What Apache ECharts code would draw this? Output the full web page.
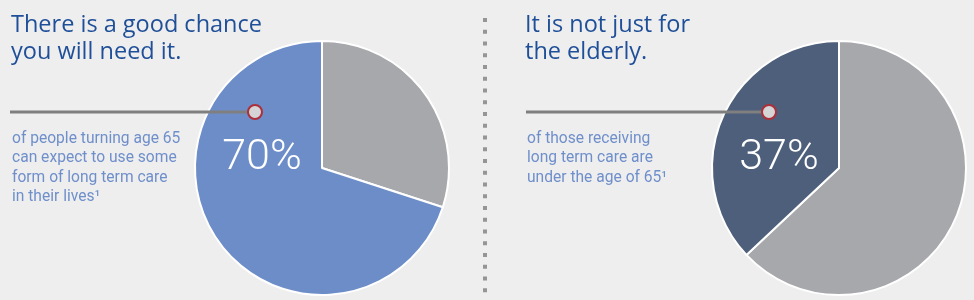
<!DOCTYPE html>
<html>
<head>
<meta charset="utf-8">
<script src="https://cdn.jsdelivr.net/npm/echarts@6/dist/echarts.min.js"></script>
<style>
html,body{margin:0;padding:0;background:#eeeeee;}
#chart{width:974px;height:300px;}
</style>
</head>
<body>
<div id="chart"></div>
<script>
// Data
const leftCategories = ['Will not need care', 'Will need long term care'];
const leftValues = [30, 70];
const rightCategories = ['Age 65 and over', 'Under age 65'];
const rightValues = [63, 37];
const leftTitle = ['There is a good chance', 'you will need it.'];
const leftNote = ['of people turning age 65', 'can expect to use some', 'form of long term care', 'in their lives\u00b9'];
const rightTitle = ['It is not just for', 'the elderly.'];
const rightNote = ['of those receiving', 'long term care are', 'under the age of 65\u00b9'];

const chart = echarts.init(document.getElementById('chart'), null, {renderer: 'canvas'});

const titleColor = '#1f4f98';
const noteColor = '#6f8fcb';
const titleFont = '400 23.5px "Open Sans", Roboto, sans-serif';
const noteFont = '400 15.6px "Liberation Sans Narrow", "Roboto", sans-serif';
const bigFont = '300 43px Roboto, "Open Sans", sans-serif';

function textLines(lines, x, y0, step, font, color) {
  return lines.map((t, i) => ({
    type: 'text', silent: true,
    style: {text: t, x: x, y: y0 + i * step, font: font, fill: color, textVerticalAlign: 'middle'}
  }));
}

function marker(x, y) {
  return {type: 'circle', silent: true, shape: {cx: x, cy: y, r: 7},
    style: {fill: '#d5d5d7', stroke: '#ad2f3a', lineWidth: 2}, z: 10};
}
function leader(x1, x2, y) {
  return {type: 'line', silent: true, shape: {x1: x1, y1: y, x2: x2, y2: y},
    style: {stroke: '#7f7f7f', lineWidth: 3}, z: 9};
}

const dots = [];
for (let i = 0; i < 24; i++) {
  dots.push({type: 'rect', silent: true, shape: {x: 483, y: 18 + i * 11.75, width: 4, height: 4},
    style: {fill: '#959595'}});
}

chart.setOption({
  backgroundColor: '#eeeeee',
  animation: false,
  series: [
    {
      type: 'pie', center: [322, 168], radius: 127, startAngle: 90, clockwise: true,
      label: {show: false}, labelLine: {show: false}, silent: true,
      itemStyle: {borderColor: '#ffffff', borderWidth: 2},
      data: leftCategories.map((c, i) => ({name: c, value: leftValues[i],
        itemStyle: {color: ['#a7a8ac', '#6d8dc8'][i]}}))
    },
    {
      type: 'pie', center: [839, 168], radius: 127, startAngle: 90, clockwise: true,
      label: {show: false}, labelLine: {show: false}, silent: true,
      itemStyle: {borderColor: '#ffffff', borderWidth: 2},
      data: rightCategories.map((c, i) => ({name: c, value: rightValues[i],
        itemStyle: {color: ['#a7a8ac', '#4d5f7a'][i]}}))
    }
  ],
  graphic: [].concat(
    textLines(leftTitle, 11, 25, 27.5, titleFont, titleColor),
    textLines(rightTitle, 525, 25, 27.5, titleFont, titleColor),
    textLines(leftNote, 12, 139, 19.5, noteFont, noteColor),
    textLines(rightNote, 527, 139, 19.5, noteFont, noteColor),
    [
      leader(10, 250, 112), marker(255, 112),
      leader(526, 764, 112), marker(769, 112),
      {type: 'text', silent: true, z: 11, style: {text: leftValues[1] + '%', x: 262, y: 158, font: bigFont,
        fill: '#ffffff', textAlign: 'center', textVerticalAlign: 'middle'}},
      {type: 'text', silent: true, z: 11, style: {text: rightValues[1] + '%', x: 779, y: 158, font: bigFont,
        fill: '#ffffff', textAlign: 'center', textVerticalAlign: 'middle'}}
    ],
    dots
  )
});
</script>
</body>
</html>
